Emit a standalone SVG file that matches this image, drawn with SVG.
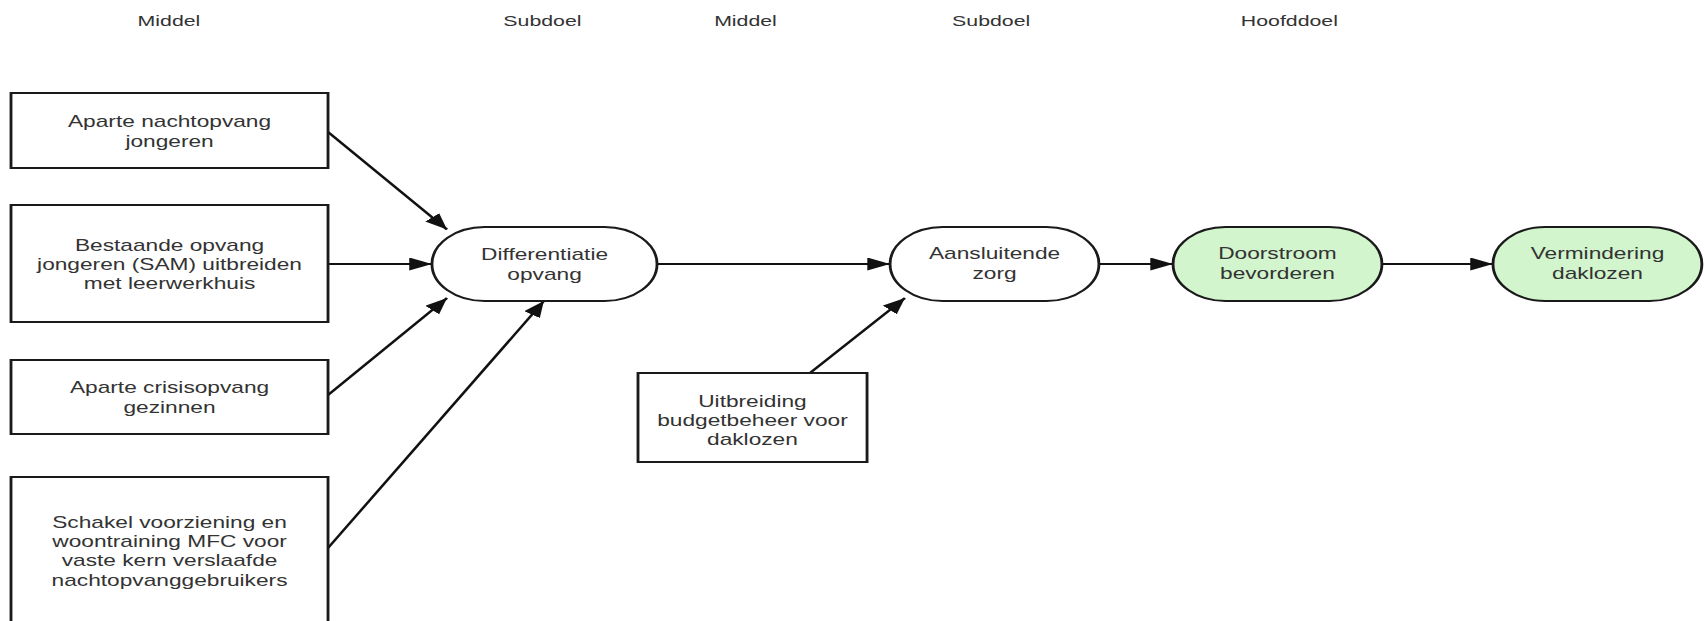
<svg xmlns="http://www.w3.org/2000/svg" width="1704" height="621" viewBox="0 0 1704 621">
  <style>
    .box { fill: #ffffff; stroke: #1a1a1a; stroke-width: 2; }
    .goal { fill: #ffffff; stroke: #1a1a1a; stroke-width: 2; }
    .main { fill: #d2f5cd; }
    .lbl { font-family: "Liberation Sans", Arial, sans-serif; font-size: 16px; fill: #333333; text-anchor: middle; }
    .hdr { font-family: "Liberation Sans", Arial, sans-serif; font-size: 15px; fill: #333333; text-anchor: middle; }
    .edge { fill: none; stroke: #111111; stroke-width: 2; marker-end: url(#arrow); }
  </style>
  <defs>
    <marker id="arrow" markerUnits="userSpaceOnUse" markerWidth="17" markerHeight="14" refX="16" refY="6.5" orient="auto">
      <path d="M0,0 L16,6.5 L0,13 z" fill="#111111"/>
    </marker>
  </defs>
  <rect width="1704" height="621" fill="#ffffff"/>

  <!-- the chart is laid out in a narrow frame and widened horizontally -->
  <g transform="scale(1.42 1)">
    <g id="column-headers">
      <text class="hdr" x="119" y="26">Middel</text>
      <text class="hdr" x="382" y="26">Subdoel</text>
      <text class="hdr" x="525" y="26">Middel</text>
      <text class="hdr" x="698" y="26">Subdoel</text>
      <text class="hdr" x="908" y="26">Hoofddoel</text>
    </g>

    <g id="connectors">
      <path class="edge" d="M231,132 L314.8,229.5"/>
      <path class="edge" d="M231,264 L304.2,264"/>
      <path class="edge" d="M231,395 L314.8,298"/>
      <path class="edge" d="M231,548 L383,301"/>
      <path class="edge" d="M462.7,264 L626.8,264"/>
      <path class="edge" d="M570.4,373 L637.3,298"/>
      <path class="edge" d="M773.9,264 L826.1,264"/>
      <path class="edge" d="M973.2,264 L1051.4,264"/>
    </g>

    <g id="nachtopvang-jongeren">
      <rect class="box" x="7.75" y="93" width="223.25" height="75"/>
      <text class="lbl" x="119.4" y="127">Aparte nachtopvang</text>
      <text class="lbl" x="119.4" y="147">jongeren</text>
    </g>

    <g id="opvang-sam">
      <rect class="box" x="7.75" y="205" width="223.25" height="117"/>
      <text class="lbl" x="119.4" y="251">Bestaande opvang</text>
      <text class="lbl" x="119.4" y="270">jongeren (SAM) uitbreiden</text>
      <text class="lbl" x="119.4" y="289">met leerwerkhuis</text>
    </g>

    <g id="crisisopvang-gezinnen">
      <rect class="box" x="7.75" y="360" width="223.25" height="74"/>
      <text class="lbl" x="119.4" y="393">Aparte crisisopvang</text>
      <text class="lbl" x="119.4" y="413">gezinnen</text>
    </g>

    <g id="schakel-voorziening">
      <rect class="box" x="7.75" y="477" width="223.25" height="170"/>
      <text class="lbl" x="119.4" y="528">Schakel voorziening en</text>
      <text class="lbl" x="119.4" y="547">woontraining MFC voor</text>
      <text class="lbl" x="119.4" y="566">vaste kern verslaafde</text>
      <text class="lbl" x="119.4" y="586">nachtopvanggebruikers</text>
    </g>

    <g id="differentiatie-opvang">
      <rect class="goal" x="304.2" y="227" width="158.5" height="74" rx="37" ry="37"/>
      <text class="lbl" x="383.5" y="260">Differentiatie</text>
      <text class="lbl" x="383.5" y="280">opvang</text>
    </g>

    <g id="budgetbeheer">
      <rect class="box" x="449.3" y="373" width="161.3" height="89"/>
      <text class="lbl" x="529.9" y="407">Uitbreiding</text>
      <text class="lbl" x="529.9" y="426">budgetbeheer voor</text>
      <text class="lbl" x="529.9" y="445">daklozen</text>
    </g>

    <g id="aansluitende-zorg">
      <rect class="goal" x="626.8" y="227" width="147.1" height="74" rx="37" ry="37"/>
      <text class="lbl" x="700.4" y="259">Aansluitende</text>
      <text class="lbl" x="700.4" y="279">zorg</text>
    </g>

    <g id="doorstroom">
      <rect class="goal main" x="826.1" y="227" width="147.1" height="74" rx="37" ry="37"/>
      <text class="lbl" x="899.6" y="259">Doorstroom</text>
      <text class="lbl" x="899.6" y="279">bevorderen</text>
    </g>

    <g id="vermindering-daklozen">
      <rect class="goal main" x="1051.4" y="227" width="147.1" height="74" rx="37" ry="37"/>
      <text class="lbl" x="1125" y="259">Vermindering</text>
      <text class="lbl" x="1125" y="279">daklozen</text>
    </g>
  </g>
</svg>
